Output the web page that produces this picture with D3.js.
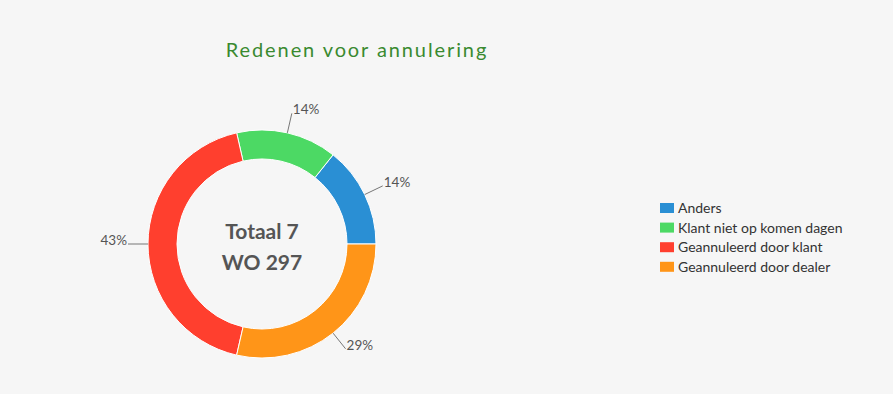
<!DOCTYPE html>
<html lang="nl">
<head>
    <meta charset="UTF-8">
    <title>Redenen voor annulering</title>
    <script src="https://d3js.org/d3.v7.min.js"></script>
    <style>
        html, body { margin: 0; padding: 0; background: #f6f6f6; }
        svg { display: block; font-family: Lato, "Open Sans", sans-serif; }
    </style>
</head>
<body>
    <svg id="chart" width="893" height="394"></svg>

    <script>
        // Chart data
        const categories = ['Anders', 'Klant niet op komen dagen', 'Geannuleerd door klant', 'Geannuleerd door dealer'];
        const counts = [1, 1, 3, 2];
        const colors = ['#2a8fd4', '#4cd964', '#ff3f2e', '#ff9518'];
        const centerLines = ['Totaal 7', 'WO 297'];
        const title = 'Redenen voor annulering';

        const width = 893, height = 394;
        const cx = 262, cy = 244;
        const outerR = 114, innerR = 85;

        const svg = d3.select('#chart');

        svg.append('rect').attr('width', width).attr('height', height).attr('fill', '#f6f6f6');

        // Title
        svg.append('text')
            .attr('x', 357)
            .attr('y', 57)
            .attr('text-anchor', 'middle')
            .attr('fill', '#3a8a30')
            .style('font-size', '20px')
            .style('letter-spacing', '1.9px')
            .text(title);

        const data = categories.map((c, i) => ({ name: c, value: counts[i], color: colors[i] }));
        const total = d3.sum(counts);

        // pie starts at 3 o'clock and runs counter-clockwise
        const pie = d3.pie()
            .sort(null)
            .value(d => d.value)
            .startAngle(Math.PI / 2)
            .endAngle(Math.PI / 2 - 2 * Math.PI);

        const arc = d3.arc().innerRadius(innerR).outerRadius(outerR);

        const g = svg.append('g').attr('transform', `translate(${cx},${cy})`);

        const arcs = pie(data);

        g.selectAll('path')
            .data(arcs)
            .join('path')
            .attr('d', arc)
            .attr('fill', d => d.data.color)
            .attr('stroke', '#ffffff')
            .attr('stroke-width', 1);

        // Labels with leader lines
        arcs.forEach(d => {
            const a = (d.startAngle + d.endAngle) / 2;
            const x1 = outerR * Math.sin(a), y1 = -outerR * Math.cos(a);
            const x2 = (outerR + 20) * Math.sin(a), y2 = -(outerR + 20) * Math.cos(a);
            g.append('line')
                .attr('x1', x1).attr('y1', y1)
                .attr('x2', x2).attr('y2', y2)
                .attr('stroke', '#777')
                .attr('stroke-width', 1);
            const right = Math.sin(a) >= 0;
            g.append('text')
                .attr('x', x2 + (right ? 1 : -1))
                .attr('y', y2 + 1)
                .attr('text-anchor', right ? 'start' : 'end')
                .attr('fill', '#555')
                .style('font-size', '13.5px')
                .text(Math.round(d.data.value / total * 100) + '%');
        });

        // Center text
        g.selectAll('.center')
            .data(centerLines)
            .join('text')
            .attr('class', 'center')
            .attr('x', 0)
            .attr('y', (d, i) => -5 + i * 31)
            .attr('text-anchor', 'middle')
            .attr('fill', '#555')
            .style('font-size', '21px')
            .style('font-weight', 'bold')
            .text(d => d);

        // Legend
        const legend = svg.append('g').attr('transform', 'translate(660,203)');
        const rows = legend.selectAll('g')
            .data(data)
            .join('g')
            .attr('transform', (d, i) => `translate(0,${i * 19.6})`);
        rows.append('rect')
            .attr('width', 14).attr('height', 10)
            .attr('fill', d => d.color);
        rows.append('text')
            .attr('x', 18)
            .attr('y', 10)
            .attr('fill', '#333')
            .style('font-size', '14px')
            .text(d => d.name);
    </script>
</body>
</html>
